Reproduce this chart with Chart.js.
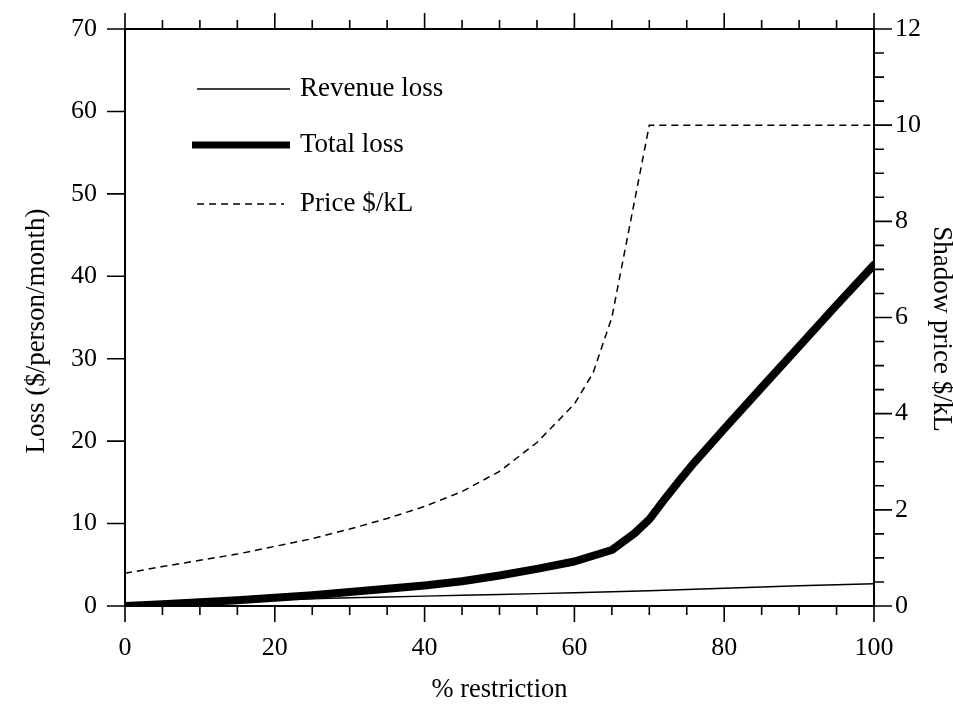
<!DOCTYPE html>
<html>
<head>
<meta charset="utf-8">
<script src="https://cdn.jsdelivr.net/npm/chart.js@4.4.0/dist/chart.umd.min.js"></script>
<style>
  html, body { margin: 0; padding: 0; background: #ffffff; }
  #wrap { width: 953px; height: 704px; }
</style>
</head>
<body>
<div id="wrap"><canvas id="c"></canvas></div>
<script>
// Revenue loss, $/person/month, against % restriction
const revenueRestriction = [0, 5, 10, 15, 20, 25, 30, 35, 40, 45, 50, 55, 60, 65, 70, 75, 80, 85, 90, 95, 100];
const revenueLoss = [0, 0.2, 0.4, 0.6, 0.75, 0.88, 1.0, 1.1, 1.2, 1.3, 1.4, 1.5, 1.6, 1.72, 1.85, 2.0, 2.15, 2.3, 2.45, 2.58, 2.7];
// Total loss, $/person/month, against % restriction
const totalRestriction = [0, 5, 10, 15, 20, 25, 30, 35, 40, 45, 50, 55, 60, 65, 68, 70, 72, 74, 76, 80, 85, 90, 95, 100];
const totalLoss = [0, 0.2, 0.45, 0.7, 1.0, 1.3, 1.7, 2.1, 2.5, 3.0, 3.7, 4.5, 5.4, 6.8, 8.8, 10.5, 12.9, 15.2, 17.4, 21.5, 26.5, 31.5, 36.5, 41.4];
// Shadow price, $/kL, against % restriction
const priceRestriction = [0, 5, 10, 15, 20, 25, 30, 35, 40, 45, 50, 55, 60, 62.5, 65, 70, 100];
const shadowPrice = [0.68, 0.82, 0.95, 1.08, 1.24, 1.4, 1.6, 1.82, 2.07, 2.38, 2.8, 3.4, 4.2, 4.85, 6.0, 10.0, 10.0];

// Axis tick values
const restrictionTicks = [0, 20, 40, 60, 80, 100];
const lossTicks = [0, 10, 20, 30, 40, 50, 60, 70];
const priceTicks = [0, 2, 4, 6, 8, 10, 12];

const serif = '"Liberation Serif", "Times New Roman", Times, serif';
const ink = '#000000';

const toPoints = (xs, ys) => xs.map((x, i) => ({ x: x, y: ys[i] }));

// Fixed axis box sizes; label overhang should not shrink the plot
const fixWidth = w => s => { s.width = w; s.paddingTop = 0; s.paddingBottom = 0; };

// Tick marks and top frame line, drawn through the chart's own scales
const frameTicks = {
  id: 'frameTicks',
  afterDraw(chart) {
    const { ctx, chartArea: a, scales } = chart;
    const x = scales.x, y = scales.y, y2 = scales.y2;
    ctx.save();
    ctx.strokeStyle = ink;
    ctx.lineWidth = 2;
    ctx.lineCap = 'butt';
    ctx.beginPath();
    ctx.moveTo(a.left, a.top);
    ctx.lineTo(a.right, a.top);
    ctx.stroke();
    ctx.lineWidth = 1.6;
    ctx.beginPath();
    for (let v = 0; v <= 100; v += 5) {
      const px = x.getPixelForValue(v);
      const len = restrictionTicks.includes(v) ? 16 : 9;
      ctx.moveTo(px, a.bottom); ctx.lineTo(px, a.bottom + len);
      ctx.moveTo(px, a.top); ctx.lineTo(px, a.top - len);
    }
    lossTicks.forEach(v => {
      const py = y.getPixelForValue(v);
      ctx.moveTo(a.left, py); ctx.lineTo(a.left - 18, py);
    });
    for (let v = 0; v <= 12; v += 0.5) {
      const py = y2.getPixelForValue(v);
      const len = priceTicks.includes(v) ? 18 : 10;
      ctx.moveTo(a.right, py); ctx.lineTo(a.right + len, py);
    }
    ctx.stroke();
    ctx.restore();
  }
};

// Vertical axis titles
const sideTitles = {
  id: 'sideTitles',
  afterDraw(chart) {
    const { ctx } = chart;
    const draw = (text, cx, cy, angle) => {
      ctx.save();
      ctx.fillStyle = ink;
      ctx.font = '27px ' + serif;
      ctx.textAlign = 'center';
      ctx.textBaseline = 'middle';
      ctx.translate(cx, cy);
      ctx.rotate(angle);
      ctx.fillText(text, 0, 0);
      ctx.restore();
    };
    draw('Loss ($/person/month)', 37, 331, -Math.PI / 2);
    draw('Shadow price $/kL', 941, 329, Math.PI / 2);
  }
};

// Legend inside the plot, using each dataset's own line style
const insetLegend = {
  id: 'insetLegend',
  afterDraw(chart) {
    const { ctx } = chart;
    const rows = [
      { i: 0, y: 89, x0: 197, x1: 290, w: 1.4 },
      { i: 1, y: 145, x0: 192, x1: 290, w: 7 },
      { i: 2, y: 204, x0: 197, x1: 284, w: 1.5 }
    ];
    ctx.save();
    rows.forEach(r => {
      const ds = chart.data.datasets[r.i];
      ctx.strokeStyle = ds.borderColor;
      ctx.lineWidth = r.w;
      ctx.setLineDash(ds.borderDash || []);
      ctx.beginPath();
      ctx.moveTo(r.x0, r.y); ctx.lineTo(r.x1, r.y);
      ctx.stroke();
      ctx.setLineDash([]);
      ctx.fillStyle = ink;
      ctx.font = '27px ' + serif;
      ctx.textBaseline = 'middle';
      ctx.textAlign = 'left';
      ctx.fillText(ds.label, 300, r.y);
    });
    ctx.restore();
  }
};

new Chart(document.getElementById('c'), {
  type: 'line',
  data: {
    datasets: [
      {
        label: 'Revenue loss',
        data: toPoints(revenueRestriction, revenueLoss),
        yAxisID: 'y',
        borderColor: ink,
        borderWidth: 1.4,
        pointRadius: 0,
        tension: 0
      },
      {
        label: 'Total loss',
        data: toPoints(totalRestriction, totalLoss),
        yAxisID: 'y',
        borderColor: ink,
        borderWidth: 8,
        borderJoinStyle: 'round',
        borderCapStyle: 'round',
        pointRadius: 0,
        tension: 0
      },
      {
        label: 'Price $/kL',
        data: toPoints(priceRestriction, shadowPrice),
        yAxisID: 'y2',
        borderColor: ink,
        borderWidth: 1.5,
        borderDash: [7, 5],
        pointRadius: 0,
        tension: 0
      }
    ]
  },
  options: {
    responsive: true,
    maintainAspectRatio: false,
    animation: false,
    layout: { padding: { top: 29, left: 0, right: 0, bottom: 0 } },
    plugins: { legend: { display: false }, tooltip: { enabled: false } },
    scales: {
      x: {
        type: 'linear',
        position: 'bottom',
        min: 0, max: 100,
        afterBuildTicks: s => { s.ticks = restrictionTicks.map(v => ({ value: v })); },
        afterFit: s => { s.height = 98; s.paddingLeft = 0; s.paddingRight = 0; },
        grid: { display: false, drawTicks: false },
        border: { display: true, color: ink, width: 2 },
        ticks: { color: ink, font: { family: serif, size: 26 }, padding: 27, maxRotation: 0 },
        title: { display: true, text: '% restriction', color: ink, font: { family: serif, size: 26.5, lineHeight: 1 }, padding: { top: 0, bottom: 1 } }
      },
      y: {
        type: 'linear',
        position: 'left',
        min: 0, max: 70,
        afterBuildTicks: s => { s.ticks = lossTicks.map(v => ({ value: v })); },
        afterFit: fixWidth(125),
        grid: { display: false, drawTicks: false },
        border: { display: true, color: ink, width: 2 },
        ticks: { color: ink, font: { family: serif, size: 26 }, padding: 28 }
      },
      y2: {
        type: 'linear',
        position: 'right',
        min: 0, max: 12,
        afterBuildTicks: s => { s.ticks = priceTicks.map(v => ({ value: v })); },
        afterFit: fixWidth(79),
        grid: { display: false, drawTicks: false, drawOnChartArea: false },
        border: { display: true, color: ink, width: 2 },
        ticks: { color: ink, font: { family: serif, size: 26 }, padding: 21 }
      }
    }
  },
  plugins: [frameTicks, sideTitles, insetLegend]
});
</script>
</body>
</html>
